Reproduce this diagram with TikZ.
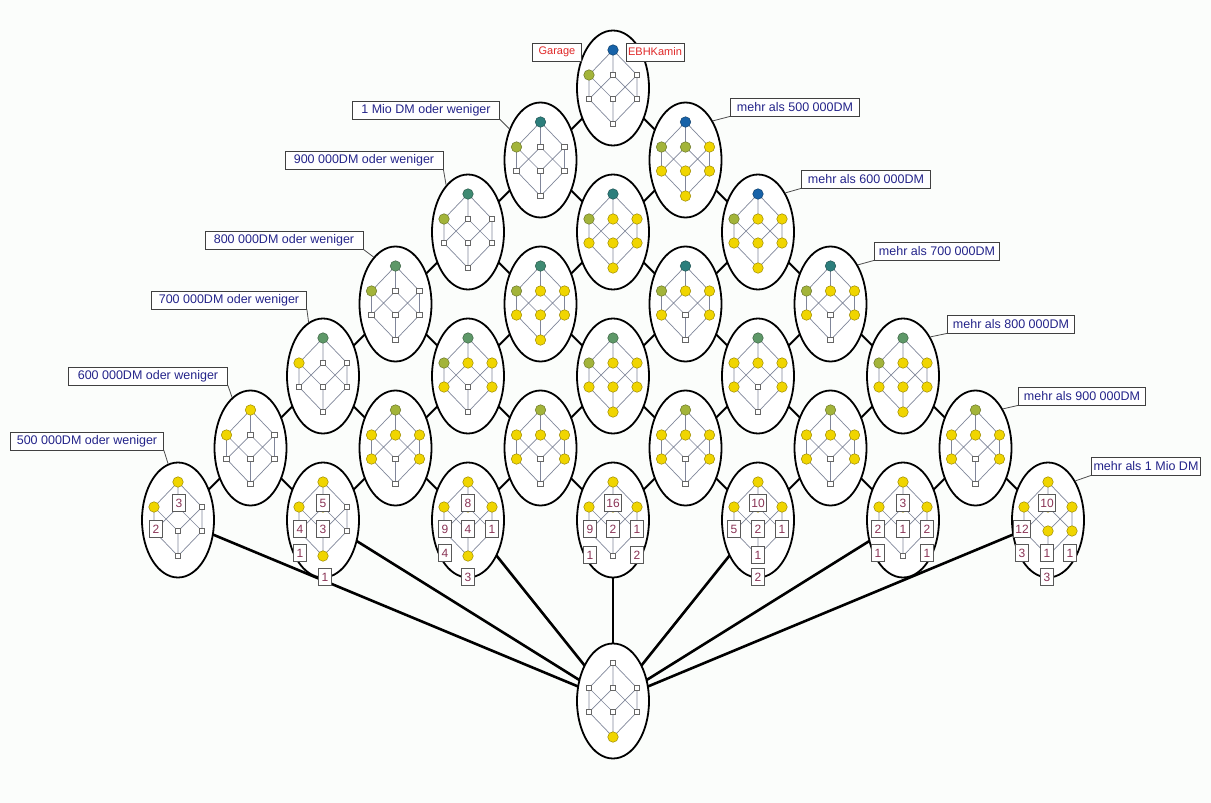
\documentclass[tikz,border=0pt]{standalone}
\usepackage{fontspec}
\setmainfont{Liberation Sans}
\usetikzlibrary{shapes.geometric}
\pgfdeclarelayer{bg}
\pgfsetlayers{bg,main}
\definecolor{yel}{HTML}{F0D500}
\definecolor{oliv}{HTML}{A3B43A}
\definecolor{grn}{HTML}{5E9868}
\definecolor{tgrn}{HTML}{3F8A72}
\definecolor{teal}{HTML}{2C7E7C}
\definecolor{blu}{HTML}{1762A8}
\definecolor{edgegray}{HTML}{80869A}
\definecolor{numred}{HTML}{8A3355}
\definecolor{labblue}{HTML}{24248A}
\definecolor{labred}{HTML}{E02828}
\definecolor{bgfill}{HTML}{FBFDFB}
\tikzset{
  ell/.style={ellipse, draw=black, line width=1.8pt, fill=white, minimum width=72pt, minimum height=115pt, inner sep=0pt},
  gridl/.style={line width=2pt, black},
  longl/.style={line width=2.6pt, black},
  inedge/.style={draw=edgegray, line width=0.7pt},
  idot/.style={circle, inner sep=0pt, minimum size=10.5pt, line width=0.5pt},
  cY/.style={idot, fill=yel, draw=yel!65!black},
  cO/.style={idot, fill=oliv, draw=oliv!65!black},
  cG/.style={idot, fill=grn, draw=grn!65!black},
  cK/.style={idot, fill=tgrn, draw=tgrn!65!black},
  cT/.style={idot, fill=teal, draw=teal!65!black},
  cB/.style={idot, fill=blu, draw=blu!65!black},
  cW/.style={rectangle, draw=black!60, fill=white, minimum size=5.5pt, inner sep=0pt, line width=0.6pt},
  numbox/.style={rectangle, draw=black!65, fill=white, text=numred, font=\fontsize{12}{12}\selectfont, minimum width=13pt, minimum height=17pt, inner sep=1.5pt, line width=0.7pt},
  lab/.style={rectangle, draw=black!75, fill=white, text=labblue, font=\fontsize{12.5}{13}\selectfont, minimum height=18pt, inner sep=2pt, line width=0.8pt},
  redlab/.style={lab, text=labred, font=\fontsize{11}{12}\selectfont},
  leader/.style={line width=0.8pt, black!70}
}
% inner lattice: #1 ellipse, #2 top, #3-#5 upper row, #6-#8 lower row, #9 bottom
\newcommand\lat[9]{%
  \path (#1) ++(0,-38) coordinate (#1-t)
        (#1) ++(-24,-13) coordinate (#1-a)
        (#1) ++(0,-13) coordinate (#1-b)
        (#1) ++(24,-13) coordinate (#1-c)
        (#1) ++(-24,11) coordinate (#1-d)
        (#1) ++(0,11) coordinate (#1-e)
        (#1) ++(24,11) coordinate (#1-f)
        (#1) ++(0,36) coordinate (#1-g);
  \draw[inedge] (#1-t) -- (#1-a) (#1-t) -- (#1-b) (#1-t) -- (#1-c)
    (#1-a) -- (#1-d) (#1-a) -- (#1-e) (#1-b) -- (#1-d) (#1-b) -- (#1-f)
    (#1-c) -- (#1-e) (#1-c) -- (#1-f)
    (#1-d) -- (#1-g) (#1-e) -- (#1-g) (#1-f) -- (#1-g);
  \node[#2] (#1T) at (#1-t) {};
  \node[#3] (#1A) at (#1-a) {};
  \node[#4] (#1B) at (#1-b) {};
  \node[#5] (#1C) at (#1-c) {};
  \node[#6] (#1D) at (#1-d) {};
  \node[#7] (#1E) at (#1-e) {};
  \node[#8] (#1F) at (#1-f) {};
  \node[#9] (#1G) at (#1-g) {};
}
\newcommand\nbx[4]{\path (#1) ++(#2) node[numbox] (#1#3) {#4};}
\begin{document}
\begin{tikzpicture}[x=1pt,y=-1pt]
\begin{pgfonlayer}{bg}
  \fill[bgfill] (0,0) rectangle (1211,803);
\end{pgfonlayer}
\useasboundingbox (0,0) rectangle (1211,803);

% ellipses of the outer lattice
\foreach \i in {0,...,6}{\foreach \j in {0,...,6}{%
  \pgfmathtruncatemacro\s{\i+\j}%
  \ifnum\s<7
    \node[ell] (e\i\j) at ({613+72.5*(\j-\i)},{88+72*(\i+\j)}) {};
  \fi}}
\node[ell] (bot) at (613,701) {};

% connectors (behind ellipses)
\begin{pgfonlayer}{bg}
  \foreach \i in {0,...,5}{\foreach \j in {0,...,5}{%
    \pgfmathtruncatemacro\s{\i+\j}%
    \ifnum\s<6
      \pgfmathtruncatemacro\ni{\i+1}%
      \pgfmathtruncatemacro\nj{\j+1}%
      \draw[gridl] (e\i\j.center) -- (e\ni\j.center);
      \draw[gridl] (e\i\j.center) -- (e\i\nj.center);
    \fi}}
  \foreach \k in {60,51,42,33,24,15,06} \draw[longl] (e\k.center) -- (bot.center);
\end{pgfonlayer}

% inner diagrams
\lat{e00}{cB}{cO}{cW}{cW}{cW}{cW}{cW}{cW}
\lat{e10}{cT}{cO}{cW}{cW}{cW}{cW}{cW}{cW}
\lat{e01}{cB}{cO}{cO}{cY}{cY}{cY}{cY}{cY}
\lat{e20}{cK}{cO}{cW}{cW}{cW}{cW}{cW}{cW}
\lat{e11}{cT}{cO}{cY}{cY}{cY}{cY}{cY}{cY}
\lat{e02}{cB}{cO}{cY}{cY}{cY}{cY}{cY}{cY}
\lat{e30}{cG}{cO}{cW}{cW}{cW}{cW}{cW}{cW}
\lat{e21}{cK}{cO}{cY}{cY}{cY}{cY}{cY}{cY}
\lat{e12}{cT}{cO}{cY}{cY}{cY}{cW}{cY}{cW}
\lat{e03}{cT}{cO}{cY}{cY}{cY}{cW}{cY}{cW}
\lat{e40}{cG}{cY}{cW}{cW}{cW}{cW}{cW}{cW}
\lat{e31}{cG}{cO}{cY}{cY}{cY}{cW}{cY}{cW}
\lat{e22}{cG}{cO}{cY}{cY}{cY}{cY}{cY}{cY}
\lat{e13}{cG}{cY}{cY}{cY}{cY}{cW}{cY}{cW}
\lat{e04}{cG}{cO}{cY}{cY}{cY}{cY}{cY}{cY}
\lat{e50}{cY}{cY}{cW}{cW}{cW}{cW}{cW}{cW}
\lat{e41}{cO}{cY}{cY}{cY}{cY}{cW}{cY}{cW}
\lat{e32}{cO}{cY}{cY}{cY}{cY}{cW}{cY}{cW}
\lat{e23}{cO}{cY}{cY}{cY}{cY}{cW}{cY}{cW}
\lat{e14}{cO}{cY}{cY}{cY}{cY}{cW}{cY}{cW}
\lat{e05}{cO}{cY}{cY}{cY}{cY}{cW}{cY}{cW}
\lat{e60}{cY}{cY}{cW}{cW}{cW}{cW}{cW}{cW}
\lat{e51}{cY}{cY}{cY}{cW}{cY}{cW}{cW}{cY}
\lat{e42}{cY}{cY}{cY}{cY}{cY}{cW}{cW}{cY}
\lat{e33}{cY}{cY}{cY}{cY}{cY}{cW}{cY}{cW}
\lat{e24}{cY}{cY}{cY}{cY}{cW}{cY}{cW}{cY}
\lat{e15}{cY}{cY}{cY}{cY}{cY}{cW}{cY}{cW}
\lat{e06}{cY}{cY}{cY}{cY}{cY}{cY}{cY}{cY}
\lat{bot}{cW}{cW}{cW}{cW}{cW}{cW}{cW}{cY}

% object counts
\nbx{e60}{1,-17}{a}{3}  \nbx{e60}{-22,9}{b}{2}
\nbx{e51}{0,-17}{a}{5}  \nbx{e51}{-23,9}{b}{4}  \nbx{e51}{0,9}{c}{3}
\nbx{e51}{-23,33}{d}{1} \nbx{e51}{2,57}{e}{1}
\nbx{e42}{0,-17}{a}{8}  \nbx{e42}{-23,9}{b}{9}  \nbx{e42}{0,9}{c}{4}
\nbx{e42}{24,9}{d}{1}   \nbx{e42}{-23,33}{e}{4} \nbx{e42}{0,57}{f}{3}
\nbx{e33}{0,-17}{a}{16} \nbx{e33}{-23,9}{b}{9}  \nbx{e33}{0,9}{c}{2}
\nbx{e33}{24,9}{d}{1}   \nbx{e33}{-23,35}{e}{1} \nbx{e33}{24,35}{f}{2}
\nbx{e24}{0,-17}{a}{10} \nbx{e24}{-24,9}{b}{5}  \nbx{e24}{0,9}{c}{2}
\nbx{e24}{24,9}{d}{1}   \nbx{e24}{0,35}{e}{1}   \nbx{e24}{0,57}{f}{2}
\nbx{e15}{0,-17}{a}{3}  \nbx{e15}{-25,9}{b}{2}  \nbx{e15}{0,9}{c}{1}
\nbx{e15}{24,9}{d}{2}   \nbx{e15}{-25,33}{e}{1} \nbx{e15}{24,33}{f}{1}
\nbx{e06}{-1,-17}{a}{10} \nbx{e06}{-26,9}{b}{12} \nbx{e06}{-26,33}{c}{3}
\nbx{e06}{-1,33}{d}{1}  \nbx{e06}{22,33}{e}{1}  \nbx{e06}{-1,57}{f}{3}

% attribute labels
\node[redlab, minimum width=49pt] (garage) at (557,52) {Garage};
\node[redlab, minimum width=56pt] (kamin) at (655,52) {EBHKamin};

\node[lab, minimum width=147pt] (L1) at (426,110) {1 Mio DM oder weniger};
\node[lab, minimum width=158pt] (L2) at (364,160) {900 000DM oder weniger};
\node[lab, minimum width=158pt] (L3) at (284,240) {800 000DM oder weniger};
\node[lab, minimum width=155pt] (L4) at (229,300) {700 000DM oder weniger};
\node[lab, minimum width=159pt] (L5) at (148,376) {600 000DM oder weniger};
\node[lab, minimum width=153pt] (L6) at (87,441) {500 000DM oder weniger};

\node[lab, minimum width=129pt] (R1) at (795,107) {mehr als 500 000DM};
\node[lab, minimum width=129pt] (R2) at (866,179) {mehr als 600 000DM};
\node[lab, minimum width=125pt] (R3) at (937,251) {mehr als 700 000DM};
\node[lab, minimum width=127pt] (R4) at (1011,324) {mehr als 800 000DM};
\node[lab, minimum width=127pt] (R5) at (1082,396) {mehr als 900 000DM};
\node[lab, minimum width=109pt] (R6) at (1146,466) {mehr als 1 Mio DM};

\draw[leader] (L1.south east) -- (e10.135);
\draw[leader] (L2.south east) -- (e20.115);
\draw[leader] (L3.south east) -- (e30.115);
\draw[leader] (L4.south east) -- (e40.105);
\draw[leader] (L5.south east) -- (e50.110);
\draw[leader] (L6.south east) -- (e60.100);
\draw[leader] (R1.south west) -- (e01.55);
\draw[leader] (R2.south west) -- (e02.55);
\draw[leader] (R3.south west) -- (e03.55);
\draw[leader] (R4.south west) -- (e04.55);
\draw[leader] (R5.south west) -- (e05.55);
\draw[leader] (R6.south west) -- (e06.55);
\end{tikzpicture}
\end{document}
